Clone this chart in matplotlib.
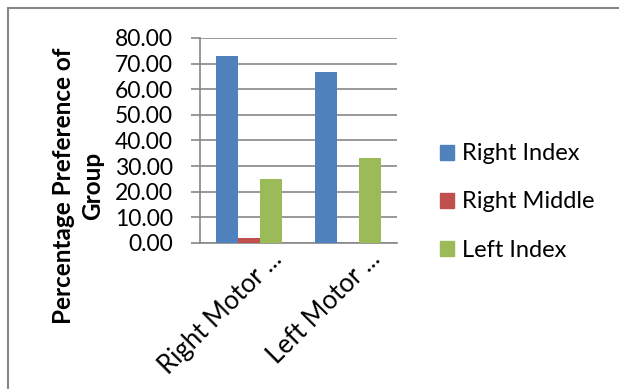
import matplotlib
matplotlib.use("Agg")
import matplotlib.pyplot as plt
import matplotlib.transforms as mtransforms
from matplotlib.patches import Rectangle, Patch
import numpy as np

categories = ["Right Motor ...", "Left Motor ..."]
series_names = ["Right Index", "Right Middle", "Left Index"]
right_index = [73.0, 66.7]
right_middle = [2.0, 0.0]
left_index = [25.0, 33.3]
colors = ["#4F81BD", "#C0504D", "#9BBB59"]
yticks = [0, 10, 20, 30, 40, 50, 60, 70, 80]

plt.rcParams['font.family'] = ['Lato', 'DejaVu Sans']

fig = plt.figure(figsize=(6.19, 3.89), dpi=100)
fig.patches.append(Rectangle((8/619, -0.1), 1.2, 1.1 - 8/389, transform=fig.transFigure,
                             fill=False, edgecolor="#868686", linewidth=1.5))
ax = fig.add_axes([200/619, 1-243/389, 197/619, 205/389])

x = np.arange(len(categories))
w = 0.223
for i, (vals, c) in enumerate(zip([right_index, right_middle, left_index], colors)):
    ax.bar(x + (i-1)*w, vals, width=w, color=c, label=series_names[i], zorder=3)

ax.set_xlim(-0.5, 1.5)
ax.set_ylim(0, 80)
ax.set_yticks(yticks)
ax.set_yticklabels([f"{v:.2f}" for v in yticks], fontsize=16.5)
ax.yaxis.grid(True, color="#878787", linewidth=1.2, zorder=0)
for s in ["top", "right"]:
    ax.spines[s].set_visible(False)
ax.spines["left"].set_color("#878787")
ax.spines["bottom"].set_color("#878787")
ax.spines["left"].set_linewidth(1.2)
ax.spines["bottom"].set_linewidth(1.2)
ax.tick_params(axis="y", direction="out", length=6.5, color="#878787", width=1.2, pad=13)
ax.tick_params(axis="x", length=0)
ax.set_xticks(x)
ax.set_xticklabels(categories, rotation=45, ha="right", va="center",
                   rotation_mode="anchor", fontsize=18.5)
offset = mtransforms.ScaledTranslation(29/100, -7/100, fig.dpi_scale_trans)
for lab in ax.get_xticklabels():
    lab.set_transform(lab.get_transform() + offset)

ax.set_ylabel("Percentage Preference of\nGroup", fontsize=17.5, fontweight="bold",
              linespacing=1.3)
ax.yaxis.set_label_coords((104-200)/197, (243-186)/205)

handles = [Patch(color=c) for c in colors]
fig.legend(handles, series_names, loc="center left", bbox_to_anchor=(440/619, 1-202/389),
           frameon=False, fontsize=17, handlelength=0.6, handleheight=0.6,
           handletextpad=0.35, labelspacing=1.15, borderpad=0, borderaxespad=0)

fig.savefig("out.png", dpi=100)
